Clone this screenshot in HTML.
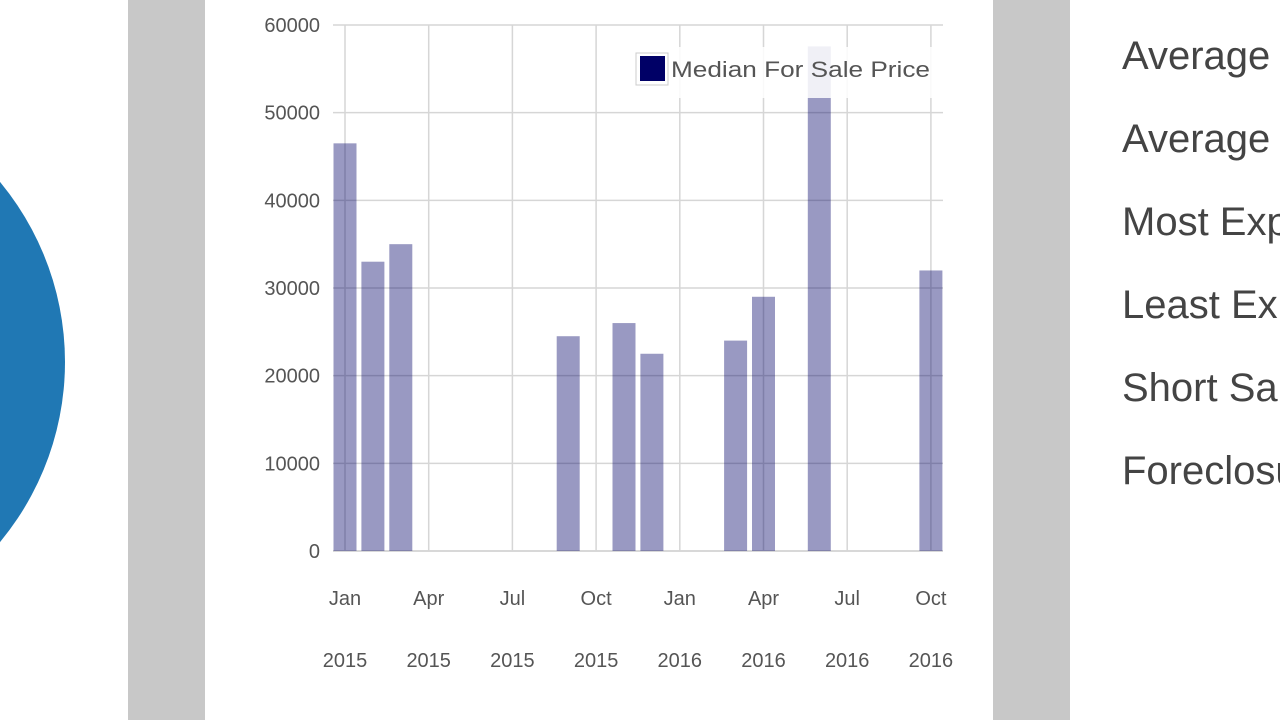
<!DOCTYPE html>
<html><head><meta charset="utf-8"><style>
html,body{margin:0;padding:0;width:1280px;height:720px;overflow:hidden;background:#fff;font-family:"Liberation Sans",sans-serif;}
.band{position:absolute;top:0;height:720px;background:#c8c8c8;}
.circle{position:absolute;left:-499px;top:80px;width:564px;height:564px;border-radius:50%;background:#2078b4;}
.rclip{position:absolute;left:1070px;top:0;width:210px;height:720px;overflow:hidden;}
.rt{position:absolute;left:52px;font-size:40px;color:#444;white-space:nowrap;}
</style></head><body>
<div class="circle"></div>
<div class="band" style="left:128px;width:77px"></div>
<div class="band" style="left:993px;width:77px"></div>
<div class="rclip">
<div class="rt" style="top:34px">Average List Price</div>
<div class="rt" style="top:117px">Average Sale Price</div>
<div class="rt" style="top:200px">Most Expensive</div>
<div class="rt" style="top:283px">Least Expensive</div>
<div class="rt" style="top:366px">Short Sales</div>
<div class="rt" style="top:449px">Foreclosures</div>
</div>
<svg id="chart" style="position:absolute;left:0;top:0" width="1070" height="720"></svg>
<script>
const months = [0,1,2,8,10,11,14,15,17,21];
const values = [46500,33000,35000,24500,26000,22500,24000,29000,57500,32000];
const yTicks = [0,10000,20000,30000,40000,50000,60000];
const xTickMonths = [0,3,6,9,12,15,18,21];
const xTickMonthLabels = ["Jan","Apr","Jul","Oct","Jan","Apr","Jul","Oct"];
const xTickYearLabels = ["2015","2015","2015","2015","2016","2016","2016","2016"];

const NS="http://www.w3.org/2000/svg";
const svg=document.getElementById('chart');
const x0=345, mw=27.9, left=333, right=943, yTop=25, yBot=551, yMax=60000;
const xs=m=>x0+m*mw;
const ys=v=>yBot-(v/yMax)*(yBot-yTop);
function mk(t,a){const e=document.createElementNS(NS,t);for(const k in a)e.setAttribute(k,a[k]);svg.appendChild(e);return e;}
yTicks.forEach((v,i)=>{
  const l=mk('line',{x1:left,x2:right,y1:ys(v),y2:ys(v),stroke:v===0?'#ccc':'#d6d6d6','stroke-width':1.5});
  
  
  const t=mk('text',{x:320,y:ys(v)+7,'text-anchor':'end','font-size':20,fill:'#555'});
  t.textContent=v;
  
  
});
xTickMonths.forEach((m,i)=>{
  const l=mk('line',{x1:xs(m),x2:xs(m),y1:yTop,y2:yBot,stroke:'#d6d6d6','stroke-width':1.5});
  
  
  const t=mk('text',{x:xs(m),y:605,'text-anchor':'middle','font-size':20,fill:'#555'});
  t.textContent=xTickMonthLabels[i];
  
  
  const t2=mk('text',{x:xs(m),y:667,'text-anchor':'middle','font-size':20,fill:'#555'});
  t2.textContent=xTickYearLabels[i];
  
  
});
months.forEach((m,i)=>{
  const b=mk('rect',{x:xs(m)-11.5,y:ys(values[i]),width:23,height:yBot-ys(values[i]),fill:'#000066','fill-opacity':0.4});
  
  
});
const lg=mk('rect',{x:632,y:47,width:303,height:51,fill:'#fff','fill-opacity':0.85});


const sw0=mk('rect',{x:636,y:53,width:32,height:32,fill:'#fff',stroke:'#ccc','stroke-width':1});


const sw=mk('rect',{x:640,y:56,width:25,height:25,fill:'#000066'});


const lt=mk('text',{x:671,y:77,'font-size':22,fill:'#555',textLength:259,lengthAdjust:'spacingAndGlyphs'});
lt.textContent='Median For Sale Price';


</script>
</body></html>
